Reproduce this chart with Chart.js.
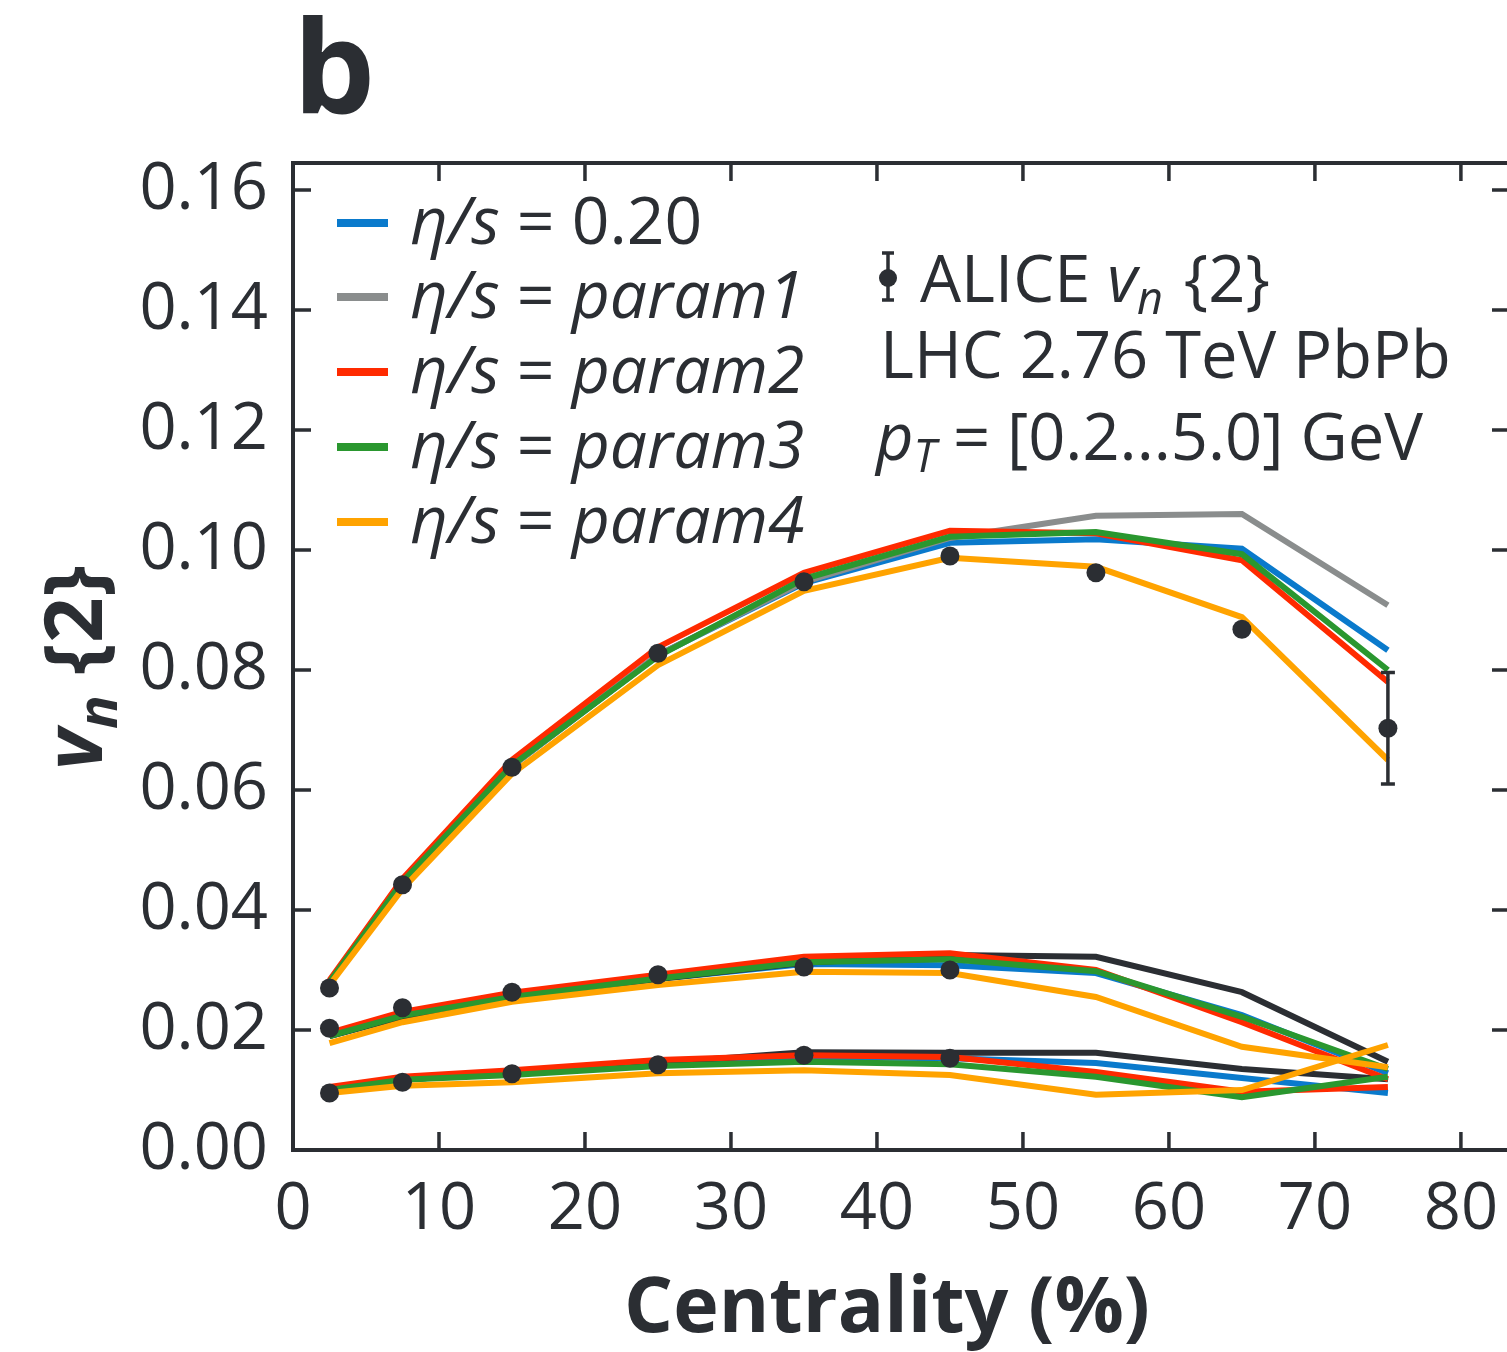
<!DOCTYPE html>
<html>
<head>
<meta charset="utf-8">
<script src="https://cdn.jsdelivr.net/npm/chart.js@4.4.1/dist/chart.umd.min.js"></script>
<style>
html, body { margin: 0; padding: 0; background: #fff; overflow: hidden; }
#wrap { width: 1512px; height: 1352px; }
</style>
</head>
<body>
<div id="wrap"><canvas id="chart" width="1512" height="1352"></canvas></div>
<script>
// centrality bin centres (%)
const centrality = [2.5, 7.5, 15, 25, 35, 45, 55, 65, 75];
const xTicks = [0, 10, 20, 30, 40, 50, 60, 70, 80];
const yTicks = [0, 0.02, 0.04, 0.06, 0.08, 0.10, 0.12, 0.14, 0.16];

// model curves, n = 2
const v2Eta020 = [0.0278, 0.0445, 0.0640, 0.0825, 0.0945, 0.1012, 0.1018, 0.1002, 0.0833];
const v2Param1 = [0.0278, 0.0445, 0.0640, 0.0825, 0.0947, 0.1020, 0.1057, 0.1060, 0.0908];
const v2Param2 = [0.0283, 0.0452, 0.0650, 0.0838, 0.0962, 0.1032, 0.1028, 0.0983, 0.0780];
const v2Param3 = [0.0280, 0.0447, 0.0641, 0.0823, 0.0952, 0.1022, 0.1030, 0.0993, 0.0800];
const v2Param4 = [0.0275, 0.0435, 0.0627, 0.0808, 0.0932, 0.0987, 0.0972, 0.0888, 0.0650];

// n = 3
const v3Eta020 = [0.0190, 0.0222, 0.0255, 0.0285, 0.0310, 0.0308, 0.0295, 0.0225, 0.0128];
const v3Param1 = [0.0190, 0.0222, 0.0255, 0.0285, 0.0312, 0.0325, 0.0322, 0.0263, 0.0147];
const v3Param2 = [0.0195, 0.0230, 0.0262, 0.0292, 0.0322, 0.0328, 0.0300, 0.0213, 0.0118];
const v3Param3 = [0.0190, 0.0224, 0.0255, 0.0286, 0.0313, 0.0318, 0.0298, 0.0222, 0.0135];
const v3Param4 = [0.0178, 0.0213, 0.0247, 0.0275, 0.0297, 0.0295, 0.0255, 0.0172, 0.0138];

// n = 4
const v4Eta020 = [0.0100, 0.0117, 0.0130, 0.0145, 0.0155, 0.0153, 0.0145, 0.0120, 0.0095];
const v4Param1 = [0.0100, 0.0117, 0.0130, 0.0145, 0.0163, 0.0162, 0.0162, 0.0135, 0.0118];
const v4Param2 = [0.0105, 0.0122, 0.0133, 0.0150, 0.0158, 0.0155, 0.0130, 0.0097, 0.0105];
const v4Param3 = [0.0100, 0.0117, 0.0125, 0.0140, 0.0147, 0.0143, 0.0122, 0.0088, 0.0122];
const v4Param4 = [0.0095, 0.0107, 0.0113, 0.0128, 0.0133, 0.0125, 0.0092, 0.0100, 0.0175];

// ALICE v_n{2} data
const aliceV2 = [0.0270, 0.0442, 0.0638, 0.0828, 0.0947, 0.0990, 0.0962, 0.0868, 0.0703];
const aliceV2Err = [0, 0, 0, 0, 0, 0, 0, 0, 0.0093];
const aliceV3 = [0.0203, 0.0237, 0.0263, 0.0292, 0.0305, 0.0300];
const aliceV4 = [0.0095, 0.0113, 0.0127, 0.0142, 0.0158, 0.0153];

const modelNames = ["0.20", "param1", "param2", "param3", "param4"];

const INK = "#2b2e33";
const BLUE = "#0a7acc", GRAY = "#8a8d8d", RED = "#ff2a00", GREEN = "#2a972f", ORANGE = "#ffa300";
const modelColors = [BLUE, GRAY, RED, GREEN, ORANGE];
const FONT = "'Open Sans', 'Noto Sans', sans-serif";

function curve(values, color, order) {
    return {
        data: values.map((v, i) => ({ x: centrality[i], y: v })),
        borderColor: color,
        borderWidth: 6,
        pointRadius: 0,
        tension: 0,
        fill: false,
        order: order
    };
}

function points(values, order) {
    return {
        data: values.map((v, i) => ({ x: centrality[i], y: v })),
        showLine: false,
        pointRadius: 9.5,
        pointBackgroundColor: INK,
        pointBorderWidth: 0,
        order: order
    };
}

// draws a run of text pieces with mixed styles, returns end x
function drawRuns(ctx, x, y, runs) {
    runs.forEach(r => {
        ctx.font = (r.italic ? "italic " : "") + (r.bold ? "bold " : "") + r.size + "px " + FONT;
        ctx.fillText(r.t, x, y + (r.dy || 0));
        x += ctx.measureText(r.t).width + (r.gap || 0);
    });
    return x;
}

const frameAndText = {
    id: "frameAndText",
    beforeDatasetsDraw(chart) {
        const { ctx, chartArea: a, scales: { x, y } } = chart;
        ctx.save();
        ctx.strokeStyle = INK;
        ctx.lineWidth = 4;
        ctx.strokeRect(a.left, a.top, a.right - a.left - 2, a.bottom - a.top);
        ctx.lineWidth = 3.5;
        ctx.beginPath();
        xTicks.forEach(v => {
            const px = x.getPixelForValue(v);
            ctx.moveTo(px, a.bottom); ctx.lineTo(px, a.bottom - 18);
            ctx.moveTo(px, a.top); ctx.lineTo(px, a.top + 18);
        });
        yTicks.forEach(v => {
            const py = y.getPixelForValue(v);
            ctx.moveTo(a.left, py); ctx.lineTo(a.left + 18, py);
            ctx.moveTo(a.right - 2, py); ctx.lineTo(a.right - 20, py);
        });
        ctx.stroke();
        ctx.restore();
    },
    afterDatasetsDraw(chart) {
        const { ctx, scales: { x, y } } = chart;
        ctx.save();
        ctx.strokeStyle = INK;
        ctx.lineWidth = 3.5;
        aliceV2Err.forEach((e, i) => {
            if (!e) return;
            const px = x.getPixelForValue(centrality[i]);
            const top = y.getPixelForValue(aliceV2[i] + e);
            const bot = y.getPixelForValue(aliceV2[i] - e);
            ctx.beginPath();
            ctx.moveTo(px, top); ctx.lineTo(px, bot);
            ctx.moveTo(px - 7, top); ctx.lineTo(px + 7, top);
            ctx.moveTo(px - 7, bot); ctx.lineTo(px + 7, bot);
            ctx.stroke();
        });
        ctx.restore();
    },
    afterDraw(chart) {
        const { ctx } = chart;
        ctx.save();
        ctx.fillStyle = INK;
        ctx.textBaseline = "alphabetic";
        ctx.textAlign = "left";

        // panel letter
        ctx.font = "bold 130px " + FONT;
        ctx.fillText("b", 293, 113);

        // legend
        const rows = [244, 318, 393, 468, 543];
        modelNames.forEach((name, i) => {
            ctx.strokeStyle = modelColors[i];
            ctx.lineWidth = 8;
            ctx.beginPath();
            ctx.moveTo(337, rows[i] - 21);
            ctx.lineTo(388, rows[i] - 21);
            ctx.stroke();
            drawRuns(ctx, 410, rows[i], [
                { t: "η/s", italic: true, size: 66 },
                { t: " = ", size: 66 },
                { t: name, italic: name !== "0.20", size: 66 }
            ]);
        });

        // data marker for ALICE
        ctx.strokeStyle = INK;
        ctx.lineWidth = 3.5;
        ctx.beginPath();
        ctx.moveTo(888, 253); ctx.lineTo(888, 300);
        ctx.moveTo(882, 253); ctx.lineTo(894, 253);
        ctx.moveTo(882, 300); ctx.lineTo(894, 300);
        ctx.stroke();
        ctx.beginPath();
        ctx.arc(888, 278, 9, 0, Math.PI * 2);
        ctx.fill();

        drawRuns(ctx, 920, 302, [
            { t: "ALICE ", size: 65 },
            { t: "v", italic: true, size: 65 },
            { t: "n", italic: true, size: 45, dy: 12, gap: 4 },
            { t: " {2}", size: 65 }
        ]);
        drawRuns(ctx, 880, 378, [{ t: "LHC 2.76 TeV PbPb", size: 65 }]);
        drawRuns(ctx, 876, 460, [
            { t: "p", italic: true, size: 65 },
            { t: "T", italic: true, size: 45, dy: 12 },
            { t: " = [0.2...5.0] GeV", size: 65 }
        ]);

        // x title
        ctx.font = "bold 77px " + FONT;
        ctx.textAlign = "center";
        ctx.fillText("Centrality (%)", 887, 1332);

        // y title
        ctx.textAlign = "left";
        ctx.translate(102, 770);
        ctx.rotate(-Math.PI / 2);
        drawRuns(ctx, 0, 0, [
            { t: "v", italic: true, bold: true, size: 80 },
            { t: "n", italic: true, bold: true, size: 56, dy: 15 },
            { t: " {2}", bold: true, size: 80 }
        ]);
        ctx.restore();
    }
};

new Chart(document.getElementById("chart"), {
    type: "line",
    data: {
        datasets: [
            points(aliceV2, 0),
            points(aliceV3, 0),
            points(aliceV4, 0),
            curve(v2Param4, ORANGE, 1), curve(v3Param4, ORANGE, 1), curve(v4Param4, ORANGE, 1),
            curve(v2Param3, GREEN, 2), curve(v3Param3, GREEN, 2), curve(v4Param3, GREEN, 2),
            curve(v2Param2, RED, 3), curve(v3Param2, RED, 3), curve(v4Param2, RED, 3),
            curve(v2Param1, GRAY, 4), curve(v3Param1, INK, 4), curve(v4Param1, INK, 4),
            curve(v2Eta020, BLUE, 5), curve(v3Eta020, BLUE, 5), curve(v4Eta020, BLUE, 5)
        ]
    },
    options: {
        responsive: false,
        animation: false,
        layout: { autoPadding: false, padding: { top: 163, left: 0, right: 0, bottom: 0 } },
        plugins: { legend: { display: false }, tooltip: { enabled: false } },
        scales: {
            x: {
                type: "linear",
                min: 0,
                max: 83.5,
                afterFit: s => { s.height = 202; s.paddingLeft = 0; s.paddingRight = 0; },
                afterBuildTicks: s => { s.ticks = xTicks.map(v => ({ value: v })); },
                grid: { display: false, drawTicks: false },
                border: { display: false },
                ticks: {
                    padding: 21,
                    maxRotation: 0,
                    autoSkip: false,
                    color: INK,
                    font: { family: FONT, size: 65 },
                    callback: v => String(v)
                }
            },
            y: {
                type: "linear",
                min: 0,
                max: 0.1645,
                afterFit: s => { s.width = 293; s.paddingTop = 0; s.paddingBottom = 0; },
                afterBuildTicks: s => { s.ticks = yTicks.map(v => ({ value: v })); },
                grid: { display: false, drawTicks: false },
                border: { display: false },
                ticks: {
                    padding: 25,
                    autoSkip: false,
                    color: INK,
                    font: { family: FONT, size: 65 },
                    callback: v => v.toFixed(2)
                }
            }
        }
    },
    plugins: [frameAndText]
});
</script>
</body>
</html>
